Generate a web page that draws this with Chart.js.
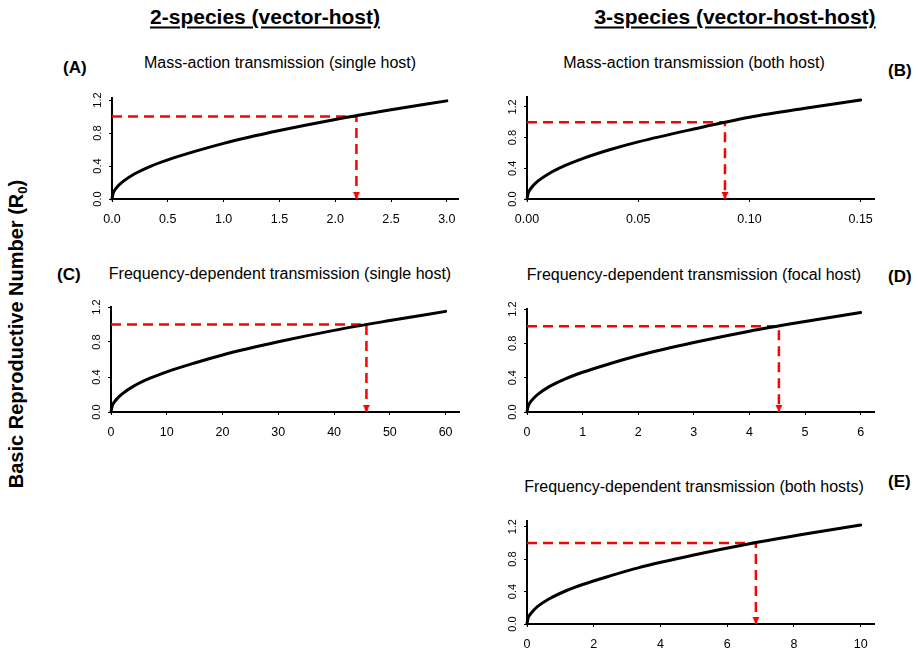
<!DOCTYPE html>
<html>
<head>
<meta charset="utf-8">
<script src="https://cdn.jsdelivr.net/npm/chart.js@4.4.1/dist/chart.umd.min.js"></script>
<style>
  body { margin: 0; background: #fff; }
  #page { position: relative; width: 919px; height: 654px; overflow: hidden; font-family: "Liberation Sans", Arial, sans-serif; color: #000; }
  .lbl { position: absolute; white-space: nowrap; line-height: 1; }
  .head { font-size: 21px; font-weight: bold; text-decoration: underline; text-decoration-thickness: 2px; text-underline-offset: 3px; transform: translate(-50%, -50%); }
  .ttl { font-size: 16px; transform: translate(-50%, -50%); }
  .tag { font-size: 17px; font-weight: bold; transform: translate(0, -50%); }
  .ylab { font-size: 20px; font-weight: bold; transform: translate(-50%, -50%) rotate(-90deg); }
  .ylab sub { font-size: 13px; vertical-align: -4px; }
  canvas { position: absolute; }
</style>
</head>
<body>
<div id="page">
  <div class="lbl head" style="left:265px;top:16px">2-species (vector-host)</div>
  <div class="lbl head" style="left:735px;top:16px">3-species (vector-host-host)</div>
  <div class="lbl ylab" style="left:17px;top:334px">Basic Reproductive Number (R<sub>0</sub>)</div>

  <div class="lbl tag" style="left:63px;top:67px">(A)</div>
  <div class="lbl ttl" style="left:280px;top:63px">Mass-action transmission (single host)</div>
  <div class="lbl tag" style="left:888px;top:70px">(B)</div>
  <div class="lbl ttl" style="left:694px;top:63px">Mass-action transmission (both host)</div>
  <div class="lbl tag" style="left:57px;top:274px">(C)</div>
  <div class="lbl ttl" style="left:280px;top:274px">Frequency-dependent transmission (single host)</div>
  <div class="lbl tag" style="left:888px;top:276px">(D)</div>
  <div class="lbl ttl" style="left:694px;top:275px">Frequency-dependent transmission (focal host)</div>
  <div class="lbl tag" style="left:888px;top:481px">(E)</div>
  <div class="lbl ttl" style="left:694px;top:487px">Frequency-dependent transmission (both hosts)</div>

  <canvas id="cA"></canvas>
  <canvas id="cB"></canvas>
  <canvas id="cC"></canvas>
  <canvas id="cD"></canvas>
  <canvas id="cE"></canvas>
</div>
<script>
// R0 curves
var xA = [0, 0.01, 0.03, 0.06, 0.1, 0.2, 0.35, 0.5, 0.75, 1.0, 1.5, 2.0, 2.5, 3.0];
var yA = [0, 0.068, 0.118, 0.166, 0.214, 0.303, 0.40, 0.475, 0.58, 0.675, 0.83, 0.965, 1.082, 1.19];

var xB = [0, 0.0005, 0.0015, 0.003, 0.005, 0.01, 0.0175, 0.025, 0.0375, 0.05, 0.075, 0.1, 0.125, 0.15];
var yB = [0, 0.074, 0.129, 0.182, 0.236, 0.333, 0.441, 0.527, 0.645, 0.745, 0.912, 1.065, 1.183, 1.29];

var xC = [0, 0.2, 0.6, 1.2, 2, 4, 7, 10, 15, 20, 30, 40, 50, 60];
var yC = [0, 0.066, 0.114, 0.160, 0.207, 0.293, 0.386, 0.459, 0.560, 0.652, 0.802, 0.933, 1.045, 1.15];

var xD = [0, 0.02, 0.06, 0.12, 0.2, 0.4, 0.7, 1, 1.5, 2, 3, 4, 5, 6];
var yD = [0, 0.066, 0.115, 0.161, 0.209, 0.296, 0.390, 0.463, 0.565, 0.658, 0.809, 0.941, 1.054, 1.16];

var xE = [0, 0.03, 0.1, 0.2, 0.33, 0.67, 1.17, 1.67, 2.5, 3.33, 5, 6.67, 8.33, 10];
var yE = [0, 0.070, 0.121, 0.170, 0.220, 0.311, 0.410, 0.487, 0.594, 0.692, 0.850, 0.989, 1.109, 1.22];

// value where R0 reaches the threshold
var threshold = 1.0;
var crossA = 2.19, crossB = 0.089, crossC = 45.8, crossD = 4.53, crossE = 6.86;

// tick labels
var ticksXA = [0, 0.5, 1.0, 1.5, 2.0, 2.5, 3.0];
var ticksXB = [0, 0.05, 0.10, 0.15];
var ticksXC = [0, 10, 20, 30, 40, 50, 60];
var ticksXD = [0, 1, 2, 3, 4, 5, 6];
var ticksXE = [0, 2, 4, 6, 8, 10];
var ticksY = [0, 0.4, 0.8, 1.2];

var font = "'Liberation Sans', Arial, sans-serif";
var Y_W = 40, X_H = 32, PAD_T = 14, PAD_R = 10;

// arrow head: tip sits at the centre of the image so it lands on the data point
var arrowImg = document.createElement('canvas');
arrowImg.width = 10; arrowImg.height = 18;
var g = arrowImg.getContext('2d');
g.fillStyle = '#ff0000';
g.beginPath(); g.moveTo(1.5, 2); g.lineTo(8.5, 2); g.lineTo(5, 9); g.closePath(); g.fill();

function pts(xs, ys) {
  return xs.map(function (x, i) { return {x: x, y: ys[i]}; });
}

function makePanel(id, box, xs, ys, xc, xmax, ymax, xticks, xdec) {
  var cv = document.getElementById(id);
  var w = Y_W + (box.R - box.L) + PAD_R;
  var h = PAD_T + (box.B - box.T) + X_H;
  cv.width = w; cv.height = h;
  cv.style.left = (box.L - Y_W) + 'px';
  cv.style.top = (box.T - PAD_T) + 'px';
  cv.style.width = w + 'px';
  cv.style.height = h + 'px';

  return new Chart(cv.getContext('2d'), {
    type: 'line',
    data: {
      datasets: [{
        label: 'R0',
        data: pts(xs, ys),
        borderColor: '#000',
        borderWidth: 3,
        borderCapStyle: 'round',
        cubicInterpolationMode: 'monotone',
        pointRadius: 0,
        clip: false
      }, {
        label: 'threshold',
        data: [{x: 0, y: threshold}, {x: xc, y: threshold}, {x: xc, y: 0}],
        borderColor: '#ff0000',
        borderWidth: 2.5,
        borderDash: [10, 6],
        tension: 0,
        pointRadius: [0, 0, 5],
        pointStyle: arrowImg,
        clip: false
      }]
    },
    options: {
      responsive: false,
      animation: false,
      devicePixelRatio: 1,
      layout: {padding: {top: PAD_T, right: PAD_R, left: 0, bottom: 0}},
      plugins: {legend: {display: false}, tooltip: {enabled: false}},
      scales: {
        x: {
          type: 'linear', min: 0, max: xmax,
          afterBuildTicks: function (s) { s.ticks = xticks.map(function (v) { return {value: v}; }); },
          afterFit: function (s) { s.height = X_H; },
          grid: {drawOnChartArea: false, tickLength: 3, color: '#000'},
          border: {color: '#000', width: 2},
          ticks: {
            autoSkip: false, maxRotation: 0, padding: 10, color: '#000',
            font: {family: font, size: 12.5},
            callback: function (v) { return Number(v).toFixed(xdec); }
          }
        },
        y: {
          type: 'linear', min: 0, max: ymax,
          afterBuildTicks: function (s) { s.ticks = ticksY.map(function (v) { return {value: v}; }); },
          afterFit: function (s) { s.width = Y_W; },
          grid: {drawOnChartArea: false, tickLength: 3, color: '#000'},
          border: {color: '#000', width: 2},
          ticks: {
            autoSkip: false, minRotation: 90, maxRotation: 90, crossAlign: 'center',
            padding: 3, color: '#000',
            font: {family: font, size: 11},
            callback: function (v) { return Number(v).toFixed(1); }
          }
        }
      }
    }
  });
}

makePanel('cA', {L: 112, T: 98, R: 458, B: 199}, xA, yA, crossA, 3.1, 1.225, ticksXA, 1);
makePanel('cB', {L: 527, T: 97, R: 874, B: 199}, xB, yB, crossB, 0.156, 1.33, ticksXB, 2);
makePanel('cC', {L: 111, T: 307, R: 459, B: 412}, xC, yC, crossC, 62.4, 1.2, ticksXC, 0);
makePanel('cD', {L: 527, T: 309, R: 874, B: 412}, xD, yD, crossD, 6.24, 1.2, ticksXD, 0);
makePanel('cE', {L: 527, T: 521, R: 874, B: 624}, xE, yE, crossE, 10.4, 1.27, ticksXE, 0);
</script>
</body>
</html>
